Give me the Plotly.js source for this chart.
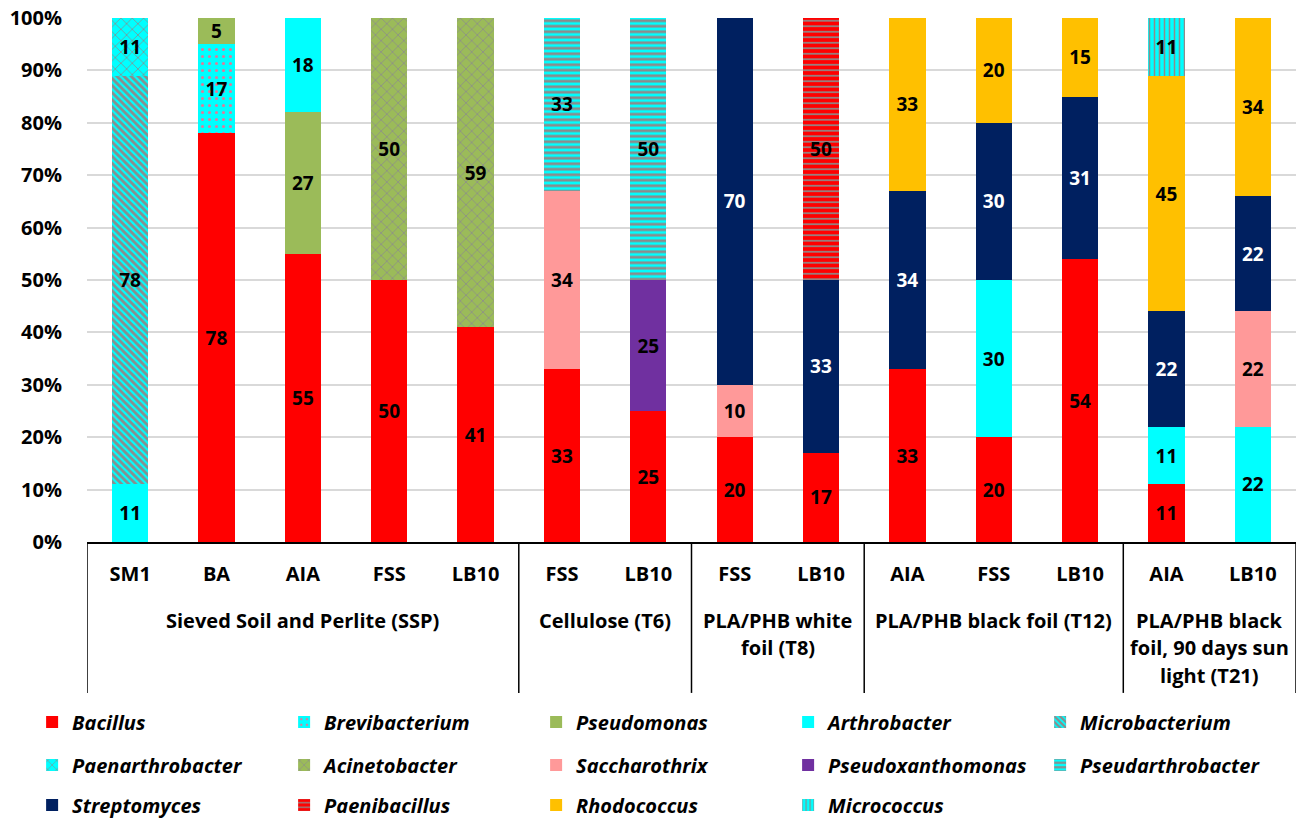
<!DOCTYPE html>
<html>
<head>
<meta charset="utf-8">
<script src="https://cdn.plot.ly/plotly-3.0.1.min.js"></script>
<style>html,body{margin:0;padding:0;background:#fff;}#chart{width:1298px;height:822px;}</style>
</head>
<body>
<div id="chart"></div>
<script>
// ---- data ----
const sampleLabels = ["SM1","BA","AIA","FSS","LB10","FSS","LB10","FSS","LB10","AIA","FSS","LB10","AIA","LB10"];
const groupNames = [
  ["Sieved Soil and Perlite (SSP)"],
  ["Cellulose (T6)"],
  ["PLA/PHB white","foil (T8)"],
  ["PLA/PHB black foil (T12)"],
  ["PLA/PHB black","foil, 90 days sun","light (T21)"]
];
const groupSizes = [5, 2, 2, 3, 2];

const genera = ["Bacillus","Brevibacterium","Pseudomonas","Arthrobacter","Microbacterium",
  "Paenarthrobacter","Acinetobacter","Saccharothrix","Pseudoxanthomonas","Pseudarthrobacter",
  "Streptomyces","Paenibacillus","Rhodococcus","Micrococcus"];

const Bacillus          = [null,78,55,50,41,33,25,20,17,33,20,54,11,null];
const Brevibacterium    = [null,17,null,null,null,null,null,null,null,null,null,null,null,null];
const Pseudomonas       = [null,5,27,null,null,null,null,null,null,null,null,null,null,null];
const Arthrobacter      = [11,null,18,null,null,null,null,null,null,null,30,null,11,22];
const Microbacterium    = [78,null,null,null,null,null,null,null,null,null,null,null,null,null];
const Paenarthrobacter  = [11,null,null,null,null,null,null,null,null,null,null,null,null,null];
const Acinetobacter     = [null,null,null,50,59,null,null,null,null,null,null,null,null,null];
const Saccharothrix     = [null,null,null,null,null,34,null,10,null,null,null,null,null,22];
const Pseudoxanthomonas = [null,null,null,null,null,null,25,null,null,null,null,null,null,null];
const Pseudarthrobacter = [null,null,null,null,null,33,50,null,null,null,null,null,null,null];
const Streptomyces      = [null,null,null,null,null,null,null,70,33,34,30,31,22,22];
const Paenibacillus     = [null,null,null,null,null,null,null,null,50,null,null,null,null,null];
const Rhodococcus       = [null,null,null,null,null,null,null,null,null,33,20,15,45,34];
const Micrococcus       = [null,null,null,null,null,null,null,null,null,null,null,null,11,null];

const seriesValues = {Bacillus, Brevibacterium, Pseudomonas, Arthrobacter, Microbacterium,
  Paenarthrobacter, Acinetobacter, Saccharothrix, Pseudoxanthomonas, Pseudarthrobacter,
  Streptomyces, Paenibacillus, Rhodococcus, Micrococcus};

// ---- styles ----
const GREY = "#8c8c8c";
const styles = {
  Bacillus:          {color:"#ff0000"},
  Brevibacterium:    {color:"#00ffff", pattern:{shape:".", fg:"#e07a9a", size:7, solidity:0.15}},
  Pseudomonas:       {color:"#9bbb59"},
  Arthrobacter:      {color:"#00ffff"},
  Microbacterium:    {color:"#00ffff", pattern:{shape:"\\", fg:GREY, size:5, solidity:0.55}},
  Paenarthrobacter:  {color:"#00ffff", pattern:{shape:"x", fg:GREY, size:8, solidity:0.18}},
  Acinetobacter:     {color:"#9bbb59", pattern:{shape:"x", fg:GREY, size:8, solidity:0.18}},
  Saccharothrix:     {color:"#ff9999"},
  Pseudoxanthomonas: {color:"#7030a0"},
  Pseudarthrobacter: {color:"#00ffff", pattern:{shape:"-", fg:GREY, size:5.5, solidity:0.5}},
  Streptomyces:      {color:"#002060", text:"#ffffff"},
  Paenibacillus:     {color:"#ff0000", pattern:{shape:"-", fg:GREY, size:5.5, solidity:0.3}},
  Rhodococcus:       {color:"#ffc000"},
  Micrococcus:       {color:"#00ffff", pattern:{shape:"|", fg:GREY, size:5, solidity:0.3}}
};

const FONT = "'Open Sans', Lato, sans-serif";
const xIdx = sampleLabels.map((_, i) => i);

const traces = genera.map((g, gi) => {
  const s = styles[g];
  const marker = {color: s.color, line: {width: 0}};
  if (s.pattern) {
    marker.pattern = {shape: s.pattern.shape, bgcolor: s.color, fgcolor: s.pattern.fg,
      fgopacity: 1, size: s.pattern.size, solidity: s.pattern.solidity, fillmode: "replace"};
  }
  const legendId = gi < 5 ? "legend" : (gi < 10 ? "legend2" : "legend3");
  return {
    type: "bar", name: g, x: xIdx, y: seriesValues[g],
    marker: marker, width: 0.42,
    text: seriesValues[g].map(v => v == null ? "" : String(v)),
    textposition: "inside", insidetextanchor: "middle", textangle: 0,
    constraintext: "none",
    textfont: {family: FONT, size: 19, weight: "bold", color: s.text || "#000000"},
    hoverinfo: "name+y", legend: legendId, cliponaxis: false
  };
});

// group dividers and labels
const shapes = [];
const annotations = [];
let start = 0;
const boundaries = [-0.5];
groupSizes.forEach((n, gi) => {
  const center = start + (n - 1) / 2;
  groupNames[gi].forEach((line, li) => {
    annotations.push({xref: "x", yref: "paper", x: center, y: -0.149 - li * 0.0525,
      text: line, showarrow: false, xanchor: "center", yanchor: "middle",
      font: {family: FONT, size: 20, weight: "bold", color: "#000"}});
  });
  start += n;
  boundaries.push(start - 0.5);
});
boundaries.forEach(b => {
  shapes.push({type: "line", xref: "x", yref: "paper", x0: b, x1: b, y0: 0, y1: -0.288,
    line: {color: "#000", width: 1.5}});
});

const legendBase = {orientation: "h", xanchor: "left", yanchor: "middle", x: -0.0454,
  font: {family: FONT, size: 20, weight: "bold", style: "italic", color: "#000"},
  entrywidth: 207, entrywidthmode: "pixels", bgcolor: "rgba(0,0,0,0)", traceorder: "normal"};

const layout = {
  width: 1298, height: 822,
  margin: {l: 87, r: 2, t: 18, b: 280, autoexpand: false},
  paper_bgcolor: "#ffffff", plot_bgcolor: "#ffffff",
  barmode: "stack", bargap: 0.58,
  font: {family: FONT, size: 20, color: "#000"},
  xaxis: {range: [-0.5, 13.5], tickmode: "array", tickvals: xIdx, ticktext: sampleLabels,
    showline: true, linecolor: "#000", linewidth: 1.5, showgrid: false, zeroline: false,
    ticks: "", ticklabelstandoff: 13, fixedrange: true, automargin: false,
    tickfont: {family: FONT, size: 20, weight: "bold", color: "#000"}},
  yaxis: {range: [0, 100], dtick: 10, ticksuffix: "%", showgrid: true, gridcolor: "#d9d9d9",
    gridwidth: 2, zeroline: false, showline: false, ticks: "", ticklabelstandoff: 24,
    fixedrange: true, automargin: false,
    tickfont: {family: FONT, size: 20, weight: "bold", color: "#000"}},
  legend:  Object.assign({}, legendBase, {y: -0.3435}),
  legend2: Object.assign({}, legendBase, {y: -0.4256}),
  legend3: Object.assign({}, legendBase, {y: -0.5019}),
  shapes: shapes, annotations: annotations,
  showlegend: true
};

Plotly.newPlot("chart", traces, layout, {displayModeBar: false, staticPlot: true});
</script>
</body>
</html>
